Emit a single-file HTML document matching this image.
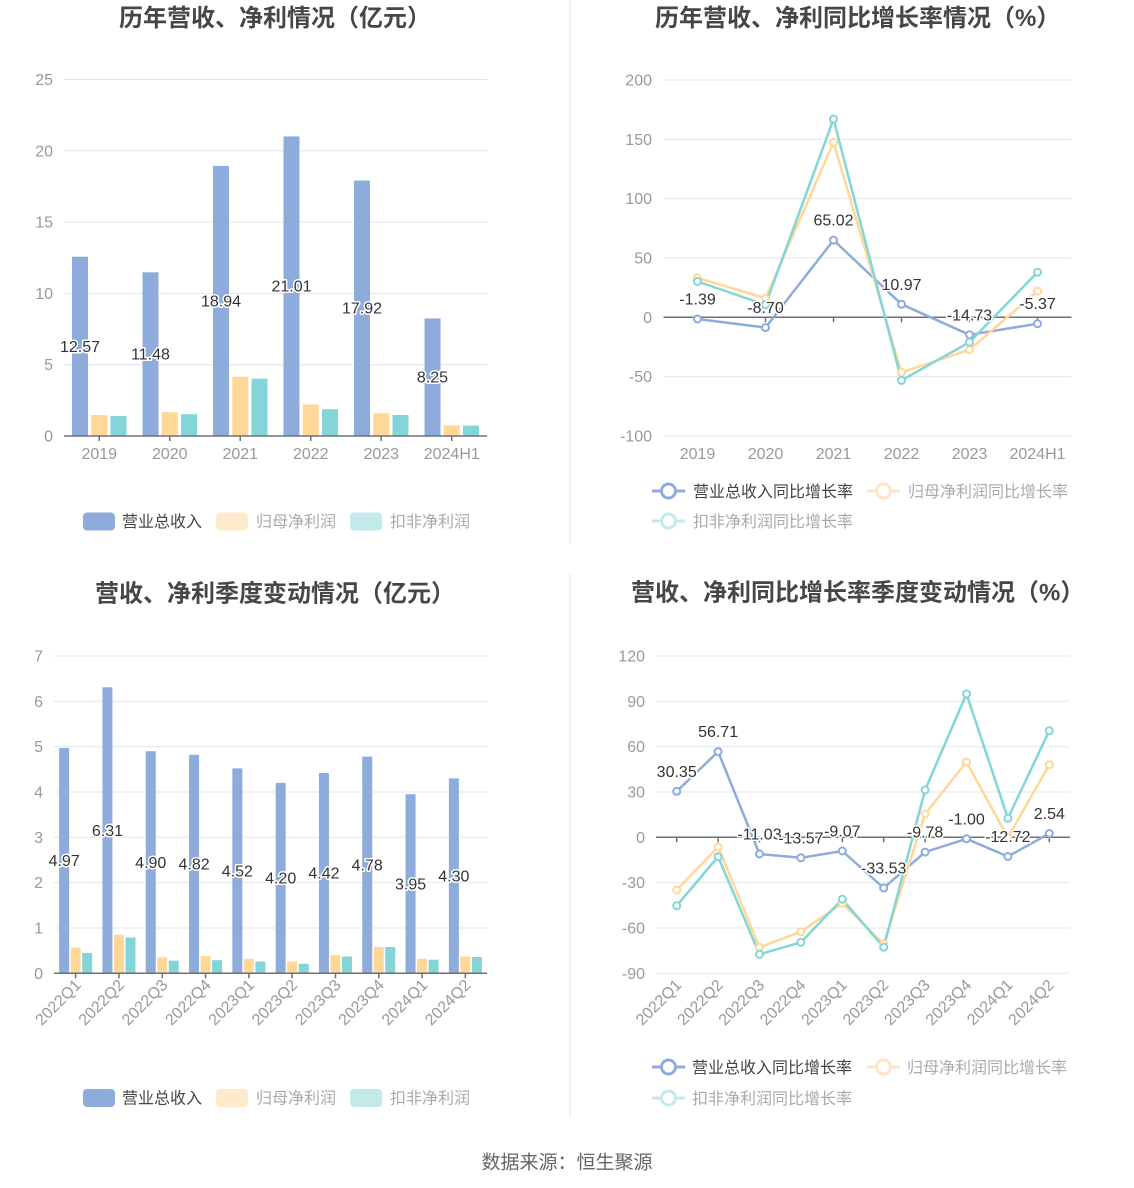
<!DOCTYPE html>
<html>
<head>
<meta charset="utf-8">
<style>
html,body{margin:0;padding:0;background:#fff;}
svg{display:block;}
text{font-family:"Liberation Sans","Noto Sans CJK SC",sans-serif;}
.t{font-size:24px;font-weight:bold;fill:#464646;}
.ax{font-size:16px;fill:#999;}
.dl{font-size:16px;fill:#333;stroke:#fff;stroke-width:3;paint-order:stroke;stroke-linejoin:round;}
.lg{font-size:16px;}
.g{stroke:#E0E6F1;stroke-width:1;}
.axl{stroke:#6E7079;stroke-width:1.5;}
</style>
</head>
<body>
<svg width="1134" height="1188" viewBox="0 0 1134 1188" xmlns="http://www.w3.org/2000/svg">
<rect width="1134" height="1188" fill="#fff"/>
<!-- dividers -->
<line x1="570" y1="0" x2="570" y2="543" stroke="#eee" stroke-width="1.5"/>
<line x1="570" y1="574" x2="570" y2="1118" stroke="#eee" stroke-width="1.5"/>

<!-- ============ TOP LEFT ============ -->
<text class="t" x="119" y="26">历年营收、净利情况（亿元）</text>
<g>
<line class="g" x1="64" y1="79.5" x2="487" y2="79.5"/>
<line class="g" x1="64" y1="150.8" x2="487" y2="150.8"/>
<line class="g" x1="64" y1="222.1" x2="487" y2="222.1"/>
<line class="g" x1="64" y1="293.4" x2="487" y2="293.4"/>
<line class="g" x1="64" y1="364.7" x2="487" y2="364.7"/>
</g>
<g class="ax" text-anchor="end">
<text x="53" y="85">25</text>
<text x="53" y="156.3">20</text>
<text x="53" y="227.6">15</text>
<text x="53" y="298.9">10</text>
<text x="53" y="370.2">5</text>
<text x="53" y="441.5">0</text>
</g>
<g fill="#8EACDB">
<rect x="72" y="256.75" width="16" height="179.25"/>
<rect x="142.5" y="272.3" width="16" height="163.7"/>
<rect x="213" y="165.9" width="16" height="270.1"/>
<rect x="283.5" y="136.4" width="16" height="299.6"/>
<rect x="354" y="180.5" width="16" height="255.5"/>
<rect x="424.5" y="318.4" width="16" height="117.6"/>
</g>
<g fill="#FFD898">
<rect x="91.25" y="415" width="16" height="21"/>
<rect x="161.75" y="412.2" width="16" height="23.8"/>
<rect x="232.25" y="376.7" width="16" height="59.3"/>
<rect x="302.75" y="404.5" width="16" height="31.5"/>
<rect x="373.25" y="413.2" width="16" height="22.8"/>
<rect x="443.75" y="425.4" width="16" height="10.6"/>
</g>
<g fill="#84D5D7">
<rect x="110.5" y="416" width="16" height="20"/>
<rect x="181" y="414.2" width="16" height="21.8"/>
<rect x="251.5" y="378.7" width="16" height="57.3"/>
<rect x="322" y="409.2" width="16" height="26.8"/>
<rect x="392.5" y="415" width="16" height="21"/>
<rect x="463" y="425.7" width="16" height="10.3"/>
</g>
<line class="axl" x1="64" y1="436" x2="487" y2="436"/>
<g class="axl">
<line x1="99.25" y1="436" x2="99.25" y2="441"/>
<line x1="169.75" y1="436" x2="169.75" y2="441"/>
<line x1="240.25" y1="436" x2="240.25" y2="441"/>
<line x1="310.75" y1="436" x2="310.75" y2="441"/>
<line x1="381.25" y1="436" x2="381.25" y2="441"/>
<line x1="451.75" y1="436" x2="451.75" y2="441"/>
</g>
<g class="ax" text-anchor="middle">
<text x="99.25" y="459">2019</text>
<text x="169.75" y="459">2020</text>
<text x="240.25" y="459">2021</text>
<text x="310.75" y="459">2022</text>
<text x="381.25" y="459">2023</text>
<text x="451.75" y="459">2024H1</text>
</g>
<g class="dl" text-anchor="middle">
<text x="80" y="351.9">12.57</text>
<text x="150.5" y="359.7">11.48</text>
<text x="221" y="306.5">18.94</text>
<text x="291.5" y="291.7">21.01</text>
<text x="362" y="313.7">17.92</text>
<text x="432.5" y="382.7">8.25</text>
</g>
<!-- legend -->
<rect x="83" y="512.5" width="32" height="18" rx="4" fill="#8EACDB"/>
<text class="lg" x="122" y="527" fill="#444">营业总收入</text>
<rect x="216" y="512.5" width="32" height="18" rx="4" fill="#FFEBCB"/>
<text class="lg" x="256" y="527" fill="#aaa">归母净利润</text>
<rect x="350" y="512.5" width="32" height="18" rx="4" fill="#C2EAEB"/>
<text class="lg" x="390" y="527" fill="#aaa">扣非净利润</text>

<!-- ============ TOP RIGHT ============ -->
<text class="t" x="655" y="26">历年营收、净利同比增长率情况（%）</text>
<g>
<line class="g" x1="663.5" y1="80" x2="1071.5" y2="80"/>
<line class="g" x1="663.5" y1="139.3" x2="1071.5" y2="139.3"/>
<line class="g" x1="663.5" y1="198.6" x2="1071.5" y2="198.6"/>
<line class="g" x1="663.5" y1="258" x2="1071.5" y2="258"/>
<line class="g" x1="663.5" y1="376.6" x2="1071.5" y2="376.6"/>
<line class="g" x1="663.5" y1="436" x2="1071.5" y2="436"/>
</g>
<g class="ax" text-anchor="end">
<text x="652" y="85.5">200</text>
<text x="652" y="144.8">150</text>
<text x="652" y="204.1">100</text>
<text x="652" y="263.5">50</text>
<text x="652" y="322.8">0</text>
<text x="652" y="382.1">-50</text>
<text x="652" y="441.5">-100</text>
</g>
<line class="axl" x1="663.5" y1="317.3" x2="1071.5" y2="317.3"/>
<g class="axl">
<line x1="697.5" y1="317.3" x2="697.5" y2="322.3"/>
<line x1="765.5" y1="317.3" x2="765.5" y2="322.3"/>
<line x1="833.5" y1="317.3" x2="833.5" y2="322.3"/>
<line x1="901.5" y1="317.3" x2="901.5" y2="322.3"/>
<line x1="969.5" y1="317.3" x2="969.5" y2="322.3"/>
<line x1="1037.5" y1="317.3" x2="1037.5" y2="322.3"/>
</g>
<g class="ax" text-anchor="middle">
<text x="697.5" y="459">2019</text>
<text x="765.5" y="459">2020</text>
<text x="833.5" y="459">2021</text>
<text x="901.5" y="459">2022</text>
<text x="969.5" y="459">2023</text>
<text x="1037.5" y="459">2024H1</text>
</g>
<g fill="none" stroke-width="2.5" stroke-linejoin="round">
<polyline stroke="#8EACDB" points="697.5,318.95 765.5,327.6 833.5,240.1 901.5,304.3 969.5,334.8 1037.5,323.7"/>
<polyline stroke="#FFD898" points="697.5,277.8 765.5,298.3 833.5,142.4 901.5,372.4 969.5,349.7 1037.5,291.2"/>
<polyline stroke="#84D5D7" points="697.5,281.5 765.5,304.8 833.5,119.1 901.5,380.4 969.5,342.2 1037.5,272.2"/>
</g>
<g fill="#fff" stroke-width="2">
<g stroke="#8EACDB">
<circle cx="697.5" cy="318.95" r="3.5"/><circle cx="765.5" cy="327.6" r="3.5"/><circle cx="833.5" cy="240.1" r="3.5"/><circle cx="901.5" cy="304.3" r="3.5"/><circle cx="969.5" cy="334.8" r="3.5"/><circle cx="1037.5" cy="323.7" r="3.5"/>
</g>
<g stroke="#FFD898">
<circle cx="697.5" cy="277.8" r="3.5"/><circle cx="765.5" cy="298.3" r="3.5"/><circle cx="833.5" cy="142.4" r="3.5"/><circle cx="901.5" cy="372.4" r="3.5"/><circle cx="969.5" cy="349.7" r="3.5"/><circle cx="1037.5" cy="291.2" r="3.5"/>
</g>
<g stroke="#84D5D7">
<circle cx="697.5" cy="281.5" r="3.5"/><circle cx="765.5" cy="304.8" r="3.5"/><circle cx="833.5" cy="119.1" r="3.5"/><circle cx="901.5" cy="380.4" r="3.5"/><circle cx="969.5" cy="342.2" r="3.5"/><circle cx="1037.5" cy="272.2" r="3.5"/>
</g>
</g>
<g class="dl" text-anchor="middle">
<text x="697.5" y="304.5">-1.39</text>
<text x="765.5" y="313.1">-8.70</text>
<text x="833.5" y="225.5">65.02</text>
<text x="901.5" y="289.8">10.97</text>
<text x="969.5" y="320.3">-14.73</text>
<text x="1037.5" y="309.2">-5.37</text>
</g>
<!-- legend -->
<line x1="652" y1="491" x2="685" y2="491" stroke="#8EACDB" stroke-width="3"/>
<circle cx="668.5" cy="491" r="7" fill="#fff" stroke="#8EACDB" stroke-width="3"/>
<text class="lg" x="693" y="497" fill="#444">营业总收入同比增长率</text>
<line x1="867" y1="491" x2="900" y2="491" stroke="#FFE6C2" stroke-width="3"/>
<circle cx="883.5" cy="491" r="7" fill="#fff" stroke="#FFE6C2" stroke-width="3"/>
<text class="lg" x="908" y="497" fill="#aaa">归母净利润同比增长率</text>
<line x1="652" y1="521" x2="685" y2="521" stroke="#C2EAEB" stroke-width="3"/>
<circle cx="668.5" cy="521" r="7" fill="#fff" stroke="#C2EAEB" stroke-width="3"/>
<text class="lg" x="693" y="527" fill="#aaa">扣非净利润同比增长率</text>

<!-- ============ BOTTOM LEFT ============ -->
<text class="t" x="95" y="601.5">营收、净利季度变动情况（亿元）</text>
<g>
<line class="g" x1="54" y1="656" x2="487" y2="656"/>
<line class="g" x1="54" y1="701.3" x2="487" y2="701.3"/>
<line class="g" x1="54" y1="746.7" x2="487" y2="746.7"/>
<line class="g" x1="54" y1="792" x2="487" y2="792"/>
<line class="g" x1="54" y1="837.3" x2="487" y2="837.3"/>
<line class="g" x1="54" y1="882.6" x2="487" y2="882.6"/>
<line class="g" x1="54" y1="928" x2="487" y2="928"/>
</g>
<g class="ax" text-anchor="end">
<text x="43" y="661.5">7</text>
<text x="43" y="706.8">6</text>
<text x="43" y="752.2">5</text>
<text x="43" y="797.5">4</text>
<text x="43" y="842.8">3</text>
<text x="43" y="888.1">2</text>
<text x="43" y="933.5">1</text>
<text x="43" y="978.8">0</text>
</g>
<g fill="#8EACDB">
<rect x="59.15" y="748" width="10" height="225.3"/>
<rect x="102.45" y="687.3" width="10" height="286"/>
<rect x="145.75" y="751.2" width="10" height="222.1"/>
<rect x="189.05" y="754.8" width="10" height="218.5"/>
<rect x="232.35" y="768.4" width="10" height="204.9"/>
<rect x="275.65" y="782.9" width="10" height="190.4"/>
<rect x="318.95" y="772.9" width="10" height="200.4"/>
<rect x="362.25" y="756.6" width="10" height="216.7"/>
<rect x="405.55" y="794.2" width="10" height="179.1"/>
<rect x="448.85" y="778.4" width="10" height="194.9"/>
</g>
<g fill="#FFD898">
<rect x="70.65" y="947.5" width="10" height="25.8"/>
<rect x="113.95" y="934.8" width="10" height="38.5"/>
<rect x="157.25" y="957.4" width="10" height="15.9"/>
<rect x="200.55" y="956.1" width="10" height="17.2"/>
<rect x="243.85" y="958.8" width="10" height="14.5"/>
<rect x="287.15" y="961.5" width="10" height="11.8"/>
<rect x="330.45" y="955.2" width="10" height="18.1"/>
<rect x="373.75" y="947" width="10" height="26.3"/>
<rect x="417.05" y="958.8" width="10" height="14.5"/>
<rect x="460.35" y="956.5" width="10" height="16.8"/>
</g>
<g fill="#84D5D7">
<rect x="82.15" y="952.9" width="10" height="20.4"/>
<rect x="125.45" y="937.5" width="10" height="35.8"/>
<rect x="168.75" y="960.6" width="10" height="12.7"/>
<rect x="212.05" y="960.2" width="10" height="13.1"/>
<rect x="255.35" y="961.5" width="10" height="11.8"/>
<rect x="298.65" y="963.8" width="10" height="9.5"/>
<rect x="341.95" y="956.5" width="10" height="16.8"/>
<rect x="385.25" y="947" width="10" height="26.3"/>
<rect x="428.55" y="959.7" width="10" height="13.6"/>
<rect x="471.85" y="957" width="10" height="16.3"/>
</g>
<line class="axl" x1="54" y1="973.3" x2="487" y2="973.3"/>
<g class="axl">
<line x1="75.65" y1="973.3" x2="75.65" y2="978.3"/>
<line x1="118.95" y1="973.3" x2="118.95" y2="978.3"/>
<line x1="162.25" y1="973.3" x2="162.25" y2="978.3"/>
<line x1="205.55" y1="973.3" x2="205.55" y2="978.3"/>
<line x1="248.85" y1="973.3" x2="248.85" y2="978.3"/>
<line x1="292.15" y1="973.3" x2="292.15" y2="978.3"/>
<line x1="335.45" y1="973.3" x2="335.45" y2="978.3"/>
<line x1="378.75" y1="973.3" x2="378.75" y2="978.3"/>
<line x1="422.05" y1="973.3" x2="422.05" y2="978.3"/>
<line x1="465.35" y1="973.3" x2="465.35" y2="978.3"/>
</g>
<g class="ax" text-anchor="end">
<text transform="translate(78,982) rotate(-45)" dy="0.35em">2022Q1</text>
<text transform="translate(121.3,982) rotate(-45)" dy="0.35em">2022Q2</text>
<text transform="translate(164.6,982) rotate(-45)" dy="0.35em">2022Q3</text>
<text transform="translate(207.9,982) rotate(-45)" dy="0.35em">2022Q4</text>
<text transform="translate(251.2,982) rotate(-45)" dy="0.35em">2023Q1</text>
<text transform="translate(294.5,982) rotate(-45)" dy="0.35em">2023Q2</text>
<text transform="translate(337.8,982) rotate(-45)" dy="0.35em">2023Q3</text>
<text transform="translate(381.1,982) rotate(-45)" dy="0.35em">2023Q4</text>
<text transform="translate(424.4,982) rotate(-45)" dy="0.35em">2024Q1</text>
<text transform="translate(467.7,982) rotate(-45)" dy="0.35em">2024Q2</text>
</g>
<g class="dl" text-anchor="middle">
<text x="64.15" y="866.2">4.97</text>
<text x="107.45" y="835.8">6.31</text>
<text x="150.75" y="867.8">4.90</text>
<text x="194.05" y="869.6">4.82</text>
<text x="237.35" y="876.4">4.52</text>
<text x="280.65" y="883.6">4.20</text>
<text x="323.95" y="878.6">4.42</text>
<text x="367.25" y="870.5">4.78</text>
<text x="410.55" y="889.3">3.95</text>
<text x="453.85" y="881.4">4.30</text>
</g>
<!-- legend -->
<rect x="83" y="1089" width="32" height="18" rx="4" fill="#8EACDB"/>
<text class="lg" x="122" y="1103.5" fill="#444">营业总收入</text>
<rect x="216" y="1089" width="32" height="18" rx="4" fill="#FFEBCB"/>
<text class="lg" x="256" y="1103.5" fill="#aaa">归母净利润</text>
<rect x="350" y="1089" width="32" height="18" rx="4" fill="#C2EAEB"/>
<text class="lg" x="390" y="1103.5" fill="#aaa">扣非净利润</text>

<!-- ============ BOTTOM RIGHT ============ -->
<text class="t" x="631" y="600.5">营收、净利同比增长率季度变动情况（%）</text>
<g>
<line class="g" x1="656" y1="656" x2="1070" y2="656"/>
<line class="g" x1="656" y1="701.3" x2="1070" y2="701.3"/>
<line class="g" x1="656" y1="746.7" x2="1070" y2="746.7"/>
<line class="g" x1="656" y1="792" x2="1070" y2="792"/>
<line class="g" x1="656" y1="882.6" x2="1070" y2="882.6"/>
<line class="g" x1="656" y1="928" x2="1070" y2="928"/>
<line class="g" x1="656" y1="973.3" x2="1070" y2="973.3"/>
</g>
<g class="ax" text-anchor="end">
<text x="645" y="661.5">120</text>
<text x="645" y="706.8">90</text>
<text x="645" y="752.2">60</text>
<text x="645" y="797.5">30</text>
<text x="645" y="842.8">0</text>
<text x="645" y="888.1">-30</text>
<text x="645" y="933.5">-60</text>
<text x="645" y="978.8">-90</text>
</g>
<line class="axl" x1="656" y1="837.3" x2="1070" y2="837.3"/>
<g class="axl">
<line x1="676.7" y1="837.3" x2="676.7" y2="842.3"/>
<line x1="718.1" y1="837.3" x2="718.1" y2="842.3"/>
<line x1="759.5" y1="837.3" x2="759.5" y2="842.3"/>
<line x1="800.9" y1="837.3" x2="800.9" y2="842.3"/>
<line x1="842.3" y1="837.3" x2="842.3" y2="842.3"/>
<line x1="883.7" y1="837.3" x2="883.7" y2="842.3"/>
<line x1="925.1" y1="837.3" x2="925.1" y2="842.3"/>
<line x1="966.5" y1="837.3" x2="966.5" y2="842.3"/>
<line x1="1007.9" y1="837.3" x2="1007.9" y2="842.3"/>
<line x1="1049.3" y1="837.3" x2="1049.3" y2="842.3"/>
</g>
<g class="ax" text-anchor="end">
<text transform="translate(678.5,982) rotate(-45)" dy="0.35em">2022Q1</text>
<text transform="translate(719.9,982) rotate(-45)" dy="0.35em">2022Q2</text>
<text transform="translate(761.3,982) rotate(-45)" dy="0.35em">2022Q3</text>
<text transform="translate(802.7,982) rotate(-45)" dy="0.35em">2022Q4</text>
<text transform="translate(844.1,982) rotate(-45)" dy="0.35em">2023Q1</text>
<text transform="translate(885.5,982) rotate(-45)" dy="0.35em">2023Q2</text>
<text transform="translate(926.9,982) rotate(-45)" dy="0.35em">2023Q3</text>
<text transform="translate(968.3,982) rotate(-45)" dy="0.35em">2023Q4</text>
<text transform="translate(1009.7,982) rotate(-45)" dy="0.35em">2024Q1</text>
<text transform="translate(1051.1,982) rotate(-45)" dy="0.35em">2024Q2</text>
</g>
<g fill="none" stroke-width="2.5" stroke-linejoin="round">
<polyline stroke="#8EACDB" points="676.7,791.4 718.1,751.6 759.5,854 800.9,857.8 842.3,851 883.7,888 925.1,852.1 966.5,838.8 1007.9,856.5 1049.3,833.5"/>
<polyline stroke="#FFD898" points="676.7,890 718.1,847 759.5,947.3 800.9,931.7 842.3,903.3 883.7,944 925.1,814 966.5,762 1007.9,837.5 1049.3,764.8"/>
<polyline stroke="#84D5D7" points="676.7,905.7 718.1,856.7 759.5,954.3 800.9,942.3 842.3,899.3 883.7,947.3 925.1,790 966.5,694 1007.9,818.3 1049.3,730.7"/>
</g>
<g fill="#fff" stroke-width="2">
<g stroke="#8EACDB">
<circle cx="676.7" cy="791.4" r="3.5"/><circle cx="718.1" cy="751.6" r="3.5"/><circle cx="759.5" cy="854" r="3.5"/><circle cx="800.9" cy="857.8" r="3.5"/><circle cx="842.3" cy="851" r="3.5"/><circle cx="883.7" cy="888" r="3.5"/><circle cx="925.1" cy="852.1" r="3.5"/><circle cx="966.5" cy="838.8" r="3.5"/><circle cx="1007.9" cy="856.5" r="3.5"/><circle cx="1049.3" cy="833.5" r="3.5"/>
</g>
<g stroke="#FFD898">
<circle cx="676.7" cy="890" r="3.5"/><circle cx="718.1" cy="847" r="3.5"/><circle cx="759.5" cy="947.3" r="3.5"/><circle cx="800.9" cy="931.7" r="3.5"/><circle cx="842.3" cy="903.3" r="3.5"/><circle cx="883.7" cy="944" r="3.5"/><circle cx="925.1" cy="814" r="3.5"/><circle cx="966.5" cy="762" r="3.5"/><circle cx="1007.9" cy="837.5" r="3.5"/><circle cx="1049.3" cy="764.8" r="3.5"/>
</g>
<g stroke="#84D5D7">
<circle cx="676.7" cy="905.7" r="3.5"/><circle cx="718.1" cy="856.7" r="3.5"/><circle cx="759.5" cy="954.3" r="3.5"/><circle cx="800.9" cy="942.3" r="3.5"/><circle cx="842.3" cy="899.3" r="3.5"/><circle cx="883.7" cy="947.3" r="3.5"/><circle cx="925.1" cy="790" r="3.5"/><circle cx="966.5" cy="694" r="3.5"/><circle cx="1007.9" cy="818.3" r="3.5"/><circle cx="1049.3" cy="730.7" r="3.5"/>
</g>
</g>
<g class="dl" text-anchor="middle">
<text x="676.7" y="776.9">30.35</text>
<text x="718.1" y="737.1">56.71</text>
<text x="759.5" y="839.5">-11.03</text>
<text x="800.9" y="843.3">-13.57</text>
<text x="842.3" y="836.5">-9.07</text>
<text x="883.7" y="873.5">-33.53</text>
<text x="925.1" y="837.6">-9.78</text>
<text x="966.5" y="824.3">-1.00</text>
<text x="1007.9" y="842">-12.72</text>
<text x="1049.3" y="819">2.54</text>
</g>
<!-- legend -->
<line x1="652" y1="1067" x2="685" y2="1067" stroke="#8EACDB" stroke-width="3"/>
<circle cx="668.5" cy="1067" r="7" fill="#fff" stroke="#8EACDB" stroke-width="3"/>
<text class="lg" x="692" y="1073" fill="#444">营业总收入同比增长率</text>
<line x1="867" y1="1067" x2="900" y2="1067" stroke="#FFE6C2" stroke-width="3"/>
<circle cx="883.5" cy="1067" r="7" fill="#fff" stroke="#FFE6C2" stroke-width="3"/>
<text class="lg" x="907" y="1073" fill="#aaa">归母净利润同比增长率</text>
<line x1="652" y1="1098" x2="685" y2="1098" stroke="#C2EAEB" stroke-width="3"/>
<circle cx="668.5" cy="1098" r="7" fill="#fff" stroke="#C2EAEB" stroke-width="3"/>
<text class="lg" x="692" y="1104" fill="#aaa">扣非净利润同比增长率</text>

<!-- footer -->
<text x="567" y="1168.5" text-anchor="middle" font-size="19" fill="#666">数据来源：恒生聚源</text>
</svg>
</body>
</html>
